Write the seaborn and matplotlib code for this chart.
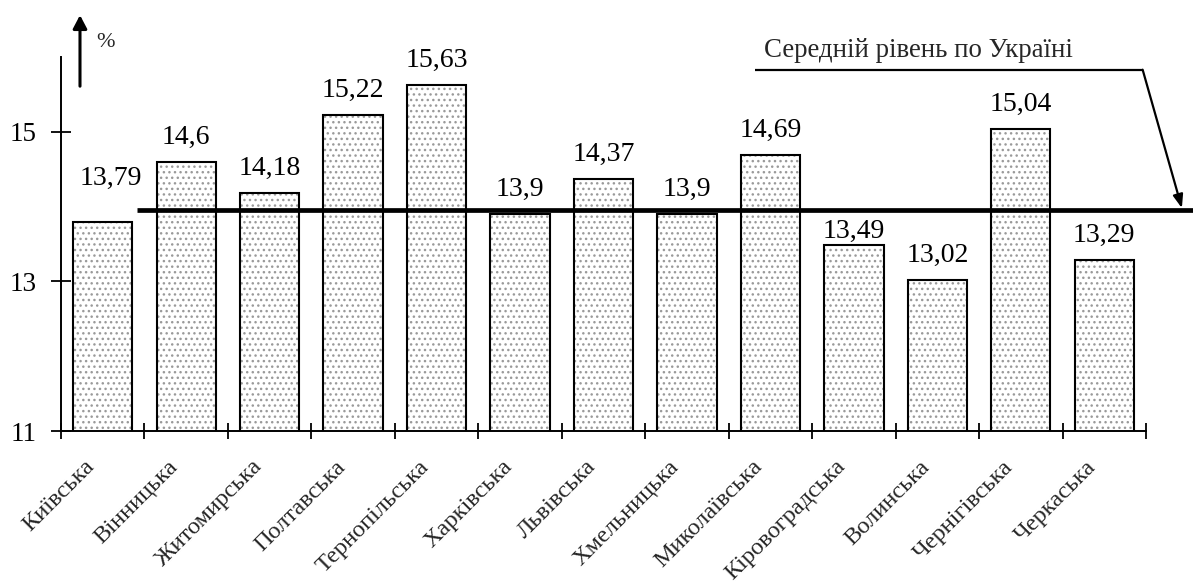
import matplotlib
matplotlib.use("Agg")
import matplotlib.pyplot as plt
import seaborn as sns
import pandas as pd
import numpy as np
from matplotlib.ticker import FixedLocator, NullFormatter
import matplotlib.transforms as mtransforms

regions = ["Київська", "Вінницька", "Житомирська", "Полтавська", "Тернопільська",
           "Харківська", "Львівська", "Хмельницька", "Миколаївська", "Кіровоградська",
           "Волинська", "Чернігівська", "Черкаська"]
values = [13.79, 14.6, 14.18, 15.22, 15.63, 13.9, 14.37, 13.9, 14.69, 13.49, 13.02, 15.04, 13.29]
value_labels = ["13,79", "14,6", "14,18", "15,22", "15,63", "13,9", "14,37", "13,9",
                "14,69", "13,49", "13,02", "15,04", "13,29"]
ukraine_avg = 13.95
avg_label = "Середній рівень по Україні"
y_ticks = [11, 13, 15]
y_unit = "%"

sns.set_style("ticks")
plt.rcParams["font.family"] = ["Liberation Serif", "DejaVu Serif"]
plt.rcParams["hatch.linewidth"] = 1.0

df = pd.DataFrame({"region": regions, "value": values})

fig = plt.figure(figsize=(11.93, 5.83), dpi=100)
ax = fig.add_axes([0.0511, 0.2607, 0.9095, 0.6415])

sns.barplot(data=df, x="region", y="value", order=regions, width=0.71,
            color="white", edgecolor="#9a9a9a", linewidth=0, hatch="...",
            ax=ax, zorder=2)
sns.barplot(data=df, x="region", y="value", order=regions, width=0.71,
            fill=False, color="black", linewidth=1.5, ax=ax, zorder=3)

ax.set_xlim(-0.5, len(regions) - 0.5)
ax.set_ylim(11, 16)
ax.set_xlabel("")
ax.set_ylabel("")

# spines
for s in ["top", "right"]:
    ax.spines[s].set_visible(False)
for s in ["left", "bottom"]:
    ax.spines[s].set_linewidth(1.4)
    ax.spines[s].set_color("black")

# y ticks
ax.set_yticks(y_ticks)
ax.set_yticklabels([str(t) for t in y_ticks])
ax.tick_params(axis="y", direction="inout", length=13.7, width=1.3, pad=10.5,
               labelsize=19.5, colors="black")

# x ticks: labels at centres, marks at boundaries
ax.set_xticks(range(len(regions)))
ax.set_xticklabels(regions, rotation=45, ha="right", va="center",
                   rotation_mode="anchor")
ax.tick_params(axis="x", which="major", length=0, pad=23.5, labelsize=17.6)
ax.xaxis.set_minor_locator(FixedLocator(np.arange(-0.5, len(regions), 1.0)))
ax.xaxis.set_minor_formatter(NullFormatter())
ax.tick_params(axis="x", which="minor", direction="inout", length=11.5, width=1.3,
               colors="black")
offset = mtransforms.ScaledTranslation(-8 / 72, 0, fig.dpi_scale_trans)
for lbl in ax.get_xticklabels():
    lbl.set_transform(lbl.get_transform() + offset)

# average line
ax.plot([0.41, 13.06], [ukraine_avg, ukraine_avg], color="black", lw=3.4,
        clip_on=False, zorder=4, solid_capstyle="butt")

# value labels
for i, (v, t) in enumerate(zip(values, value_labels)):
    dx, dy = 0, 13
    if i == 0:
        dx, dy = 6, 27
    elif i == 9:
        dy = 5
    ax.annotate(t, xy=(i, v), xytext=(dx, dy), textcoords="offset points",
                ha="center", va="baseline", fontsize=20, color="black")

# y-axis arrow and unit
ax.annotate("", xy=(-0.272, 16.56), xytext=(-0.272, 15.61), xycoords="data",
            arrowprops=dict(arrowstyle="-|>,head_length=0.8,head_width=0.42",
                            color="black", lw=2.2, shrinkA=0, shrinkB=0),
            annotation_clip=False)
ax.text(0.03, 16.2, y_unit, ha="center", va="center", fontsize=16,
        clip_on=False)

# annotation for average
ax.plot([7.815, 12.46], [15.83, 15.83], color="black", lw=1.6, clip_on=False,
        solid_capstyle="butt")
ax.annotate("", xy=(12.93, ukraine_avg + 0.03), xytext=(12.46, 15.83), xycoords="data",
            arrowprops=dict(arrowstyle="-|>,head_length=0.8,head_width=0.3",
                            color="black", lw=1.6, shrinkA=0, shrinkB=0),
            annotation_clip=False)
ax.text(9.77, 16.0, avg_label, ha="center", va="baseline", fontsize=19.4,
        clip_on=False)

fig.savefig("out.png", dpi=100)
